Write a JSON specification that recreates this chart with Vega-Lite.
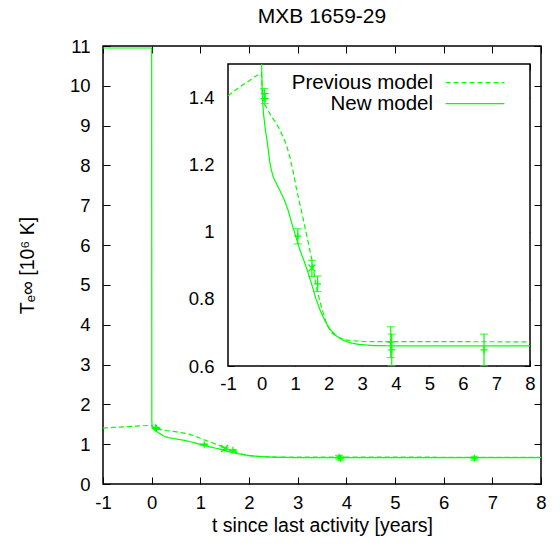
{
  "$schema": "https://vega.github.io/schema/vega-lite/v6.json",
  "width": 438,
  "height": 438,
  "autosize": {"type": "none"},
  "padding": {"left": 103, "top": 46, "right": 19, "bottom": 70},
  "background": "white",
  "title": {"text": "MXB 1659-29", "fontSize": 21, "font": "Liberation Sans", "fontWeight": "normal", "color": "#000", "anchor": "middle", "offset": 10},
  "config": {
    "view": {"stroke": "#000", "strokeWidth": 1.5},
    "axis": {"domain": false, "grid": false, "tickColor": "#000", "tickWidth": 1, "labelColor": "#000", "labelFont": "Liberation Sans", "labelFontSize": 18.5, "titleFont": "Liberation Sans", "titleFontSize": 19.5, "titleFontWeight": "normal", "titleColor": "#000", "labelFlush": false, "labelOverlap": false, "labelBound": false}
  },
  "datasets": {
    "curves": [
      {"model": "New model", "i": 0, "t": -1, "T": 10.95},
      {"model": "New model", "i": 1, "t": 0, "T": 10.95},
      {"model": "New model", "i": 2, "t": 0.003, "T": 1.6},
      {"model": "New model", "i": 3, "t": 0.01, "T": 1.46},
      {"model": "New model", "i": 4, "t": 0.026, "T": 1.40},
      {"model": "New model", "i": 5, "t": 0.06, "T": 1.35},
      {"model": "New model", "i": 6, "t": 0.10, "T": 1.316},
      {"model": "New model", "i": 7, "t": 0.15, "T": 1.28},
      {"model": "New model", "i": 8, "t": 0.20, "T": 1.245},
      {"model": "New model", "i": 9, "t": 0.24, "T": 1.21},
      {"model": "New model", "i": 10, "t": 0.29, "T": 1.185},
      {"model": "New model", "i": 11, "t": 0.35, "T": 1.163},
      {"model": "New model", "i": 12, "t": 0.45, "T": 1.142},
      {"model": "New model", "i": 13, "t": 0.55, "T": 1.122},
      {"model": "New model", "i": 14, "t": 0.67, "T": 1.097},
      {"model": "New model", "i": 15, "t": 0.79, "T": 1.065},
      {"model": "New model", "i": 16, "t": 0.94, "T": 1.012},
      {"model": "New model", "i": 17, "t": 1.04, "T": 0.98},
      {"model": "New model", "i": 18, "t": 1.14, "T": 0.947},
      {"model": "New model", "i": 19, "t": 1.27, "T": 0.912},
      {"model": "New model", "i": 20, "t": 1.39, "T": 0.877},
      {"model": "New model", "i": 21, "t": 1.52, "T": 0.835},
      {"model": "New model", "i": 22, "t": 1.62, "T": 0.80},
      {"model": "New model", "i": 23, "t": 1.75, "T": 0.765},
      {"model": "New model", "i": 24, "t": 1.9, "T": 0.733},
      {"model": "New model", "i": 25, "t": 2.05, "T": 0.708},
      {"model": "New model", "i": 26, "t": 2.25, "T": 0.688},
      {"model": "New model", "i": 27, "t": 2.45, "T": 0.676},
      {"model": "New model", "i": 28, "t": 2.65, "T": 0.669},
      {"model": "New model", "i": 29, "t": 2.85, "T": 0.665},
      {"model": "New model", "i": 30, "t": 3.3, "T": 0.661},
      {"model": "New model", "i": 31, "t": 4, "T": 0.66},
      {"model": "New model", "i": 32, "t": 8, "T": 0.66},
      {"model": "Previous model", "i": 0, "t": -1, "T": 1.405},
      {"model": "Previous model", "i": 1, "t": -0.8, "T": 1.421},
      {"model": "Previous model", "i": 2, "t": -0.6, "T": 1.435},
      {"model": "Previous model", "i": 3, "t": -0.4, "T": 1.448},
      {"model": "Previous model", "i": 4, "t": -0.2, "T": 1.462},
      {"model": "Previous model", "i": 5, "t": 0, "T": 1.473},
      {"model": "Previous model", "i": 6, "t": 0.01, "T": 1.44},
      {"model": "Previous model", "i": 7, "t": 0.03, "T": 1.40},
      {"model": "Previous model", "i": 8, "t": 0.07, "T": 1.383},
      {"model": "Previous model", "i": 9, "t": 0.15, "T": 1.37},
      {"model": "Previous model", "i": 10, "t": 0.3, "T": 1.342},
      {"model": "Previous model", "i": 11, "t": 0.45, "T": 1.322},
      {"model": "Previous model", "i": 12, "t": 0.6, "T": 1.292},
      {"model": "Previous model", "i": 13, "t": 0.74, "T": 1.26},
      {"model": "Previous model", "i": 14, "t": 0.85, "T": 1.22},
      {"model": "Previous model", "i": 15, "t": 0.95, "T": 1.175},
      {"model": "Previous model", "i": 16, "t": 1.04, "T": 1.128},
      {"model": "Previous model", "i": 17, "t": 1.2, "T": 1.057},
      {"model": "Previous model", "i": 18, "t": 1.35, "T": 0.987},
      {"model": "Previous model", "i": 19, "t": 1.5, "T": 0.917},
      {"model": "Previous model", "i": 20, "t": 1.6, "T": 0.855},
      {"model": "Previous model", "i": 21, "t": 1.68, "T": 0.815},
      {"model": "Previous model", "i": 22, "t": 1.8, "T": 0.77},
      {"model": "Previous model", "i": 23, "t": 1.95, "T": 0.722},
      {"model": "Previous model", "i": 24, "t": 2.1, "T": 0.698},
      {"model": "Previous model", "i": 25, "t": 2.3, "T": 0.685},
      {"model": "Previous model", "i": 26, "t": 2.55, "T": 0.677},
      {"model": "Previous model", "i": 27, "t": 3, "T": 0.673},
      {"model": "Previous model", "i": 28, "t": 8, "T": 0.672}
    ],
    "obs": [
      {"t": 0.08, "T": 1.412, "lo": 1.397, "hi": 1.427, "sym": "plus"},
      {"t": 0.10, "T": 1.397, "lo": 1.382, "hi": 1.412, "sym": "plus"},
      {"t": 1.08, "T": 0.987, "lo": 0.964, "hi": 1.009, "sym": "plus"},
      {"t": 1.50, "T": 0.892, "lo": 0.867, "hi": 0.915, "sym": "cross"},
      {"t": 1.67, "T": 0.845, "lo": 0.822, "hi": 0.868, "sym": "plus"},
      {"t": 3.85, "T": 0.671, "lo": 0.625, "hi": 0.717, "sym": "plus"},
      {"t": 3.88, "T": 0.648, "lo": 0.601, "hi": 0.695, "sym": "plus"},
      {"t": 6.63, "T": 0.648, "lo": 0.601, "hi": 0.695, "sym": "plus"}
    ]
  },
  "layer": [
    {
      "layer": [
        {
          "data": {"name": "curves"},
          "mark": {"type": "line", "color": "#00ff00", "strokeWidth": 1.2, "clip": true},
          "encoding": {
            "x": {"field": "t", "type": "quantitative", "scale": {"domain": [-1, 8], "nice": false, "zero": false},
              "axis": {"orient": "bottom", "values": [-1, 0, 1, 2, 3, 4, 5, 6, 7, 8], "labelExpr": "'' + datum.value", "tickSize": -7, "labelPadding": 16, "title": "t since last activity [years]", "titleY": 47, "titleBaseline": "alphabetic", "titleAlign": "center", "titleX": 219}},
            "y": {"field": "T", "type": "quantitative", "scale": {"domain": [0, 11], "nice": false, "zero": false},
              "axis": {"orient": "left", "values": [0, 1, 2, 3, 4, 5, 6, 7, 8, 9, 10, 11], "labelExpr": "'' + datum.value", "tickSize": -7, "labelPadding": 20, "title": "Tₑ∞ [10⁶ K]", "titleAngle": -90, "titleX": -70, "titleY": 219, "titleAlign": "center", "titleBaseline": "alphabetic"}},
            "strokeDash": {"field": "model", "type": "nominal", "scale": {"domain": ["Previous model", "New model"], "range": [[5, 3], [1, 0]]}, "legend": null},
            "order": {"field": "i", "type": "quantitative"}
          }
        },
        {
          "data": {"name": "obs"},
          "mark": {"type": "rule", "color": "#00ff00", "strokeWidth": 1.2},
          "encoding": {
            "x": {"field": "t", "type": "quantitative", "scale": {"domain": [-1, 8], "nice": false, "zero": false}, "axis": null},
            "y": {"field": "lo", "type": "quantitative", "scale": {"domain": [0, 11], "nice": false, "zero": false}, "axis": null},
            "y2": {"field": "hi"}
          }
        },
        {
          "data": {"name": "obs"},
          "mark": {"type": "tick", "orient": "horizontal", "size": 8, "thickness": 1.2, "color": "#00ff00"},
          "encoding": {
            "x": {"field": "t", "type": "quantitative", "scale": {"domain": [-1, 8], "nice": false, "zero": false}, "axis": null},
            "y": {"field": "lo", "type": "quantitative", "scale": {"domain": [0, 11], "nice": false, "zero": false}, "axis": null}
          }
        },
        {
          "data": {"name": "obs"},
          "mark": {"type": "tick", "orient": "horizontal", "size": 8, "thickness": 1.2, "color": "#00ff00"},
          "encoding": {
            "x": {"field": "t", "type": "quantitative", "scale": {"domain": [-1, 8], "nice": false, "zero": false}, "axis": null},
            "y": {"field": "hi", "type": "quantitative", "scale": {"domain": [0, 11], "nice": false, "zero": false}, "axis": null}
          }
        },
        {
          "data": {"name": "obs"},
          "mark": {"type": "point", "filled": false, "stroke": "#00ff00", "strokeWidth": 1.2, "size": 49, "opacity": 1},
          "encoding": {
            "x": {"field": "t", "type": "quantitative", "scale": {"domain": [-1, 8], "nice": false, "zero": false},
              "axis": {"orient": "top", "values": [-1, 0, 1, 2, 3, 4, 5, 6, 7, 8], "labels": false, "tickSize": -7, "title": null}},
            "y": {"field": "T", "type": "quantitative", "scale": {"domain": [0, 11], "nice": false, "zero": false},
              "axis": {"orient": "right", "values": [0, 1, 2, 3, 4, 5, 6, 7, 8, 9, 10, 11], "labels": false, "tickSize": -7, "title": null}},
            "shape": {"field": "sym", "type": "nominal", "scale": {"domain": ["plus", "cross"], "range": ["M-1,0H1M0,-1V1", "M-1,-1L1,1M-1,1L1,-1"]}, "legend": null}
          }
        }
      ],
      "resolve": {"axis": {"x": "independent", "y": "independent"}}
    },
    {
      "layer": [
        {
          "data": {"values": [{}]},
          "mark": {"type": "rect", "fill": "white", "stroke": "#000", "strokeWidth": 1.5},
          "encoding": {
            "x": {"datum": -1, "type": "quantitative", "scale": {"domain": [-1, 8], "range": [125, 427], "nice": false, "zero": false}, "axis": null},
            "x2": {"datum": 8},
            "y": {"datum": 0.6, "type": "quantitative", "scale": {"domain": [0.6, 1.5], "range": [320, 18], "nice": false, "zero": false, "clamp": true}, "axis": null},
            "y2": {"datum": 1.5}
          }
        },
        {
          "data": {"name": "curves"},
          "transform": [{"filter": {"field": "T", "lte": 1.6}}],
          "mark": {"type": "line", "color": "#00ff00", "strokeWidth": 1.2},
          "encoding": {
            "x": {"field": "t", "type": "quantitative", "scale": {"domain": [-1, 8], "range": [125, 427], "nice": false, "zero": false},
              "axis": {"orient": "bottom", "offset": -118, "values": [-1, 0, 1, 2, 3, 4, 5, 6, 7, 8], "labelExpr": "'' + datum.value", "tickSize": -6, "labelPadding": 14, "title": null}},
            "y": {"field": "T", "type": "quantitative", "scale": {"domain": [0.6, 1.5], "range": [320, 18], "nice": false, "zero": false, "clamp": true},
              "axis": {"orient": "left", "offset": -125, "values": [0.6, 0.8, 1, 1.2, 1.4], "labelExpr": "'' + datum.value", "tickSize": -6, "labelPadding": 20, "title": null}},
            "strokeDash": {"field": "model", "type": "nominal", "scale": {"domain": ["Previous model", "New model"], "range": [[5, 3], [1, 0]]},
              "legend": {"orient": "none", "legendX": 342, "legendY": 26.7, "title": null, "symbolType": "stroke", "symbolSize": 3434, "symbolStrokeWidth": 1.2, "symbolStrokeColor": "#00ff00", "labelAlign": "right", "labelOffset": -72, "labelFontSize": 20.5, "labelFont": "Liberation Sans", "labelColor": "#000", "rowPadding": 0, "padding": 0, "labelBaseline": "middle", "labelLimit": 0,
                "encode": {"symbols": {"update": {"y": {"value": 10}}}, "labels": {"update": {"y": {"value": 10}}}}}},
            "order": {"field": "i", "type": "quantitative"}
          }
        },
        {
          "data": {"name": "obs"},
          "mark": {"type": "rule", "color": "#00ff00", "strokeWidth": 1.2},
          "encoding": {
            "x": {"field": "t", "type": "quantitative", "scale": {"domain": [-1, 8], "range": [125, 427], "nice": false, "zero": false}, "axis": null},
            "y": {"field": "lo", "type": "quantitative", "scale": {"domain": [0.6, 1.5], "range": [320, 18], "nice": false, "zero": false, "clamp": true}, "axis": null},
            "y2": {"field": "hi"}
          }
        },
        {
          "data": {"name": "obs"},
          "mark": {"type": "tick", "orient": "horizontal", "size": 8, "thickness": 1.2, "color": "#00ff00"},
          "encoding": {
            "x": {"field": "t", "type": "quantitative", "scale": {"domain": [-1, 8], "range": [125, 427], "nice": false, "zero": false}, "axis": null},
            "y": {"field": "lo", "type": "quantitative", "scale": {"domain": [0.6, 1.5], "range": [320, 18], "nice": false, "zero": false, "clamp": true}, "axis": null}
          }
        },
        {
          "data": {"name": "obs"},
          "mark": {"type": "tick", "orient": "horizontal", "size": 8, "thickness": 1.2, "color": "#00ff00"},
          "encoding": {
            "x": {"field": "t", "type": "quantitative", "scale": {"domain": [-1, 8], "range": [125, 427], "nice": false, "zero": false}, "axis": null},
            "y": {"field": "hi", "type": "quantitative", "scale": {"domain": [0.6, 1.5], "range": [320, 18], "nice": false, "zero": false, "clamp": true}, "axis": null}
          }
        },
        {
          "data": {"name": "obs"},
          "mark": {"type": "point", "filled": false, "stroke": "#00ff00", "strokeWidth": 1.2, "size": 49, "opacity": 1},
          "encoding": {
            "x": {"field": "t", "type": "quantitative", "scale": {"domain": [-1, 8], "range": [125, 427], "nice": false, "zero": false},
              "axis": {"orient": "top", "offset": -18, "values": [-1, 0, 1, 2, 3, 4, 5, 6, 7, 8], "labels": false, "tickSize": -6, "title": null}},
            "y": {"field": "T", "type": "quantitative", "scale": {"domain": [0.6, 1.5], "range": [320, 18], "nice": false, "zero": false, "clamp": true},
              "axis": {"orient": "right", "offset": -11, "values": [0.6, 0.8, 1, 1.2, 1.4], "labels": false, "tickSize": -6, "title": null}},
            "shape": {"field": "sym", "type": "nominal", "scale": {"domain": ["plus", "cross"], "range": ["M-1,0H1M0,-1V1", "M-1,-1L1,1M-1,1L1,-1"]}, "legend": null}
          }
        }
      ],
      "resolve": {"axis": {"x": "independent", "y": "independent"}}
    }
  ],
  "resolve": {
    "scale": {"x": "independent", "y": "independent", "strokeDash": "independent"},
    "axis": {"x": "independent", "y": "independent"},
    "legend": {"strokeDash": "independent"}
  }
}
